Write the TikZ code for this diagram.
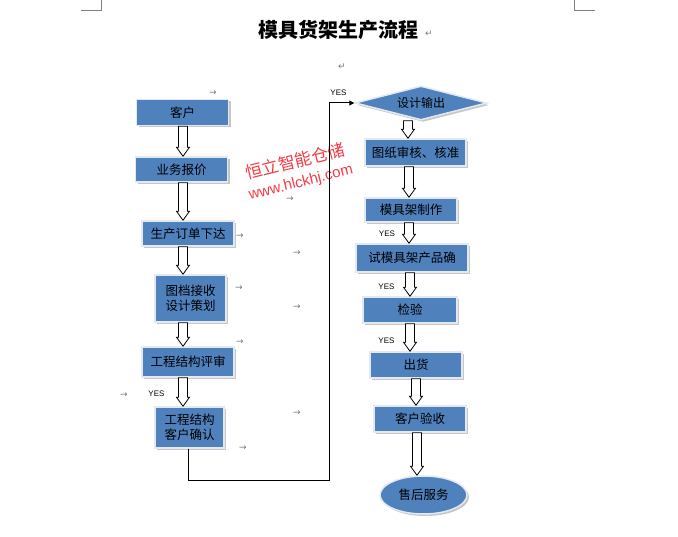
\documentclass[tikz,border=0pt]{standalone}
\usepackage{fontspec}
\newfontfamily\cjk{Noto Sans CJK SC}
\newfontfamily\latinsans{Liberation Sans}
\newfontfamily\marksfont{DejaVu Sans}
\usetikzlibrary{calc}
\usetikzlibrary{shapes.geometric}
\usetikzlibrary{shadows}
\usetikzlibrary{arrows.meta}
\definecolor{boxblue}{RGB}{79,129,189}
\definecolor{boxedge}{RGB}{228,232,240}
\definecolor{markgray}{RGB}{120,120,120}
\definecolor{stampred}{RGB}{245,60,70}
\tikzstyle{stepbox}=[rectangle,fill=boxblue,draw=boxedge,line width=1.5pt,inner sep=1pt,
  font=\cjk\fontsize{12.5}{15}\selectfont,align=center,
  drop shadow={shadow xshift=2pt,shadow yshift=-2pt,fill=gray!45,opacity=1}]
\tikzstyle{hollowarrow}=[fill=white,draw=black,line width=0.8pt,line join=miter]
\tikzstyle{flowline}=[draw=black,line width=1pt]
\tikzstyle{yeslabel}=[inner sep=0pt,font=\latinsans\fontsize{8}{9}\selectfont]
\tikzstyle{tabmark}=[inner sep=0pt,text=markgray,font=\marksfont\fontsize{9}{10}\selectfont]
\newcommand{\blockarrow}[3]{% Syntax: {x of the shaft}{from node}{to node}
  \draw[hollowarrow] let \p1=(#2.south), \p2=(#3.north), \p3=(#1,0) in
    (\x3-4.5pt,\y1) -- (\x3+4.5pt,\y1) -- (\x3+4.5pt,\y2+9pt) -- (\x3+6.5pt,\y2+9pt)
    -- (\x3,\y2) -- (\x3-6.5pt,\y2+9pt) -- (\x3-4.5pt,\y2+9pt) -- cycle;
}
\newcommand{\tabarrow}[2]{\node[tabmark] at (#1,#2) {→};}
\begin{document}
\begin{tikzpicture}[x=1pt,y=-1pt]
  \useasboundingbox[fill=white] (0,0) rectangle (678,537);
  % page corner marks
  \draw[gray,line width=0.8pt] (81,10) -- (101.5,10) -- (101.5,0);
  \draw[gray,line width=0.8pt] (595,10) -- (574.5,10) -- (574.5,0);
  \node[font=\cjk\bfseries\fontsize{20}{22}\selectfont,inner sep=0pt] (title) at (338,30) {模具货架生产流程};
  \node[tabmark] (ret1) at (429,34) {↵};
  \node[tabmark] (ret2) at (342,67) {↵};
  % left column
  \node[stepbox,minimum width=92,minimum height=26] (kehu) at (182.5,112.5) {客户};
  \node[stepbox,minimum width=92,minimum height=25] (baojia) at (181.5,169.5) {业务报价};
  \node[stepbox,minimum width=92,minimum height=25] (dingdan) at (188,233.5) {生产订单下达};
  \node[stepbox,minimum width=71,minimum height=47] (tudang) at (190.5,298.5) {图档接收\\设计策划};
  \node[stepbox,minimum width=92,minimum height=30] (pingshen) at (188,362) {工程结构评审};
  \node[stepbox,minimum width=69,minimum height=41] (queren) at (189.5,427.5) {工程结构\\客户确认};
  % right column
  \node[diamond,shape aspect=4,fill=boxblue,draw=boxedge,line width=1.5pt,inner sep=0pt,
    minimum width=132,minimum height=34,font=\cjk\fontsize{12}{15}\selectfont,
    drop shadow={shadow xshift=2pt,shadow yshift=-2pt,fill=gray!45,opacity=1}] (shuchu) at (421,103) {设计输出};
  \node[stepbox,minimum width=101,minimum height=27] (tuzhi) at (415.5,152.5) {图纸审核、核准};
  \node[stepbox,minimum width=92,minimum height=24] (zhizuo) at (411,210) {模具架制作};
  \node[stepbox,minimum width=112,minimum height=28] (shimo) at (412,258) {试模具架产品确};
  \node[stepbox,minimum width=94,minimum height=26] (jianyan) at (410,310) {检验};
  \node[stepbox,minimum width=92,minimum height=26] (chuhuo) at (416,365) {出货};
  \node[stepbox,minimum width=92,minimum height=26] (yanshou) at (420,419) {客户验收};
  \node[ellipse,fill=boxblue,draw=boxedge,line width=1.5pt,inner sep=0pt,
    minimum width=87,minimum height=38,font=\cjk\fontsize{12.5}{15}\selectfont,
    drop shadow={shadow xshift=2pt,shadow yshift=-2pt,fill=gray!45,opacity=1}] (shouhou) at (423.5,495) {售后服务};
  % hollow arrows
  \blockarrow{183}{kehu}{baojia}
  \blockarrow{183}{baojia}{dingdan}
  \blockarrow{183}{dingdan}{tudang}
  \blockarrow{183}{tudang}{pingshen}
  \blockarrow{183}{pingshen}{queren}
  \blockarrow{408}{shuchu}{tuzhi}
  \blockarrow{409}{tuzhi}{zhizuo}
  \blockarrow{409}{zhizuo}{shimo}
  \blockarrow{410}{shimo}{jianyan}
  \blockarrow{410}{jianyan}{chuhuo}
  \blockarrow{416}{chuhuo}{yanshou}
  \blockarrow{417}{yanshou}{shouhou}
  % watermark
  \node[text=stampred,rotate=14,inner sep=0pt,font=\cjk\fontsize{17}{18}\selectfont] (stamp) at (295,161) {恒立智能仓储};
  \node[text=stampred,rotate=14,inner sep=0pt,font=\latinsans\fontsize{15}{16}\selectfont] (stampurl) at (301,183) {www.hlckhj.com};
  % return line to the design output
  \coordinate (turnA) at (188,480);
  \coordinate (turnB) at (329,480);
  \coordinate (turnC) at (329,103);
  \draw[flowline,-{Triangle[length=5pt,width=5pt]}] (turnA |- queren.south) -- (turnA) -- (turnB) -- (turnC) -- (shuchu.west);
  \node[yeslabel] (yes0) at (338.5,92.5) {YES};
  \node[yeslabel] (yes1) at (156.5,394) {YES};
  \node[yeslabel] (yes2) at (387,234) {YES};
  \node[yeslabel] (yes3) at (386.5,287) {YES};
  \node[yeslabel] (yes4) at (386.5,341) {YES};
  % tab marks
  \tabarrow{213}{93}
  \tabarrow{290}{199}
  \tabarrow{240}{236}
  \tabarrow{297}{253}
  \tabarrow{239}{288}
  \tabarrow{297}{307}
  \tabarrow{240}{342}
  \tabarrow{124}{395}
  \tabarrow{297}{413}
  \tabarrow{243}{448}
\end{tikzpicture}
\end{document}
